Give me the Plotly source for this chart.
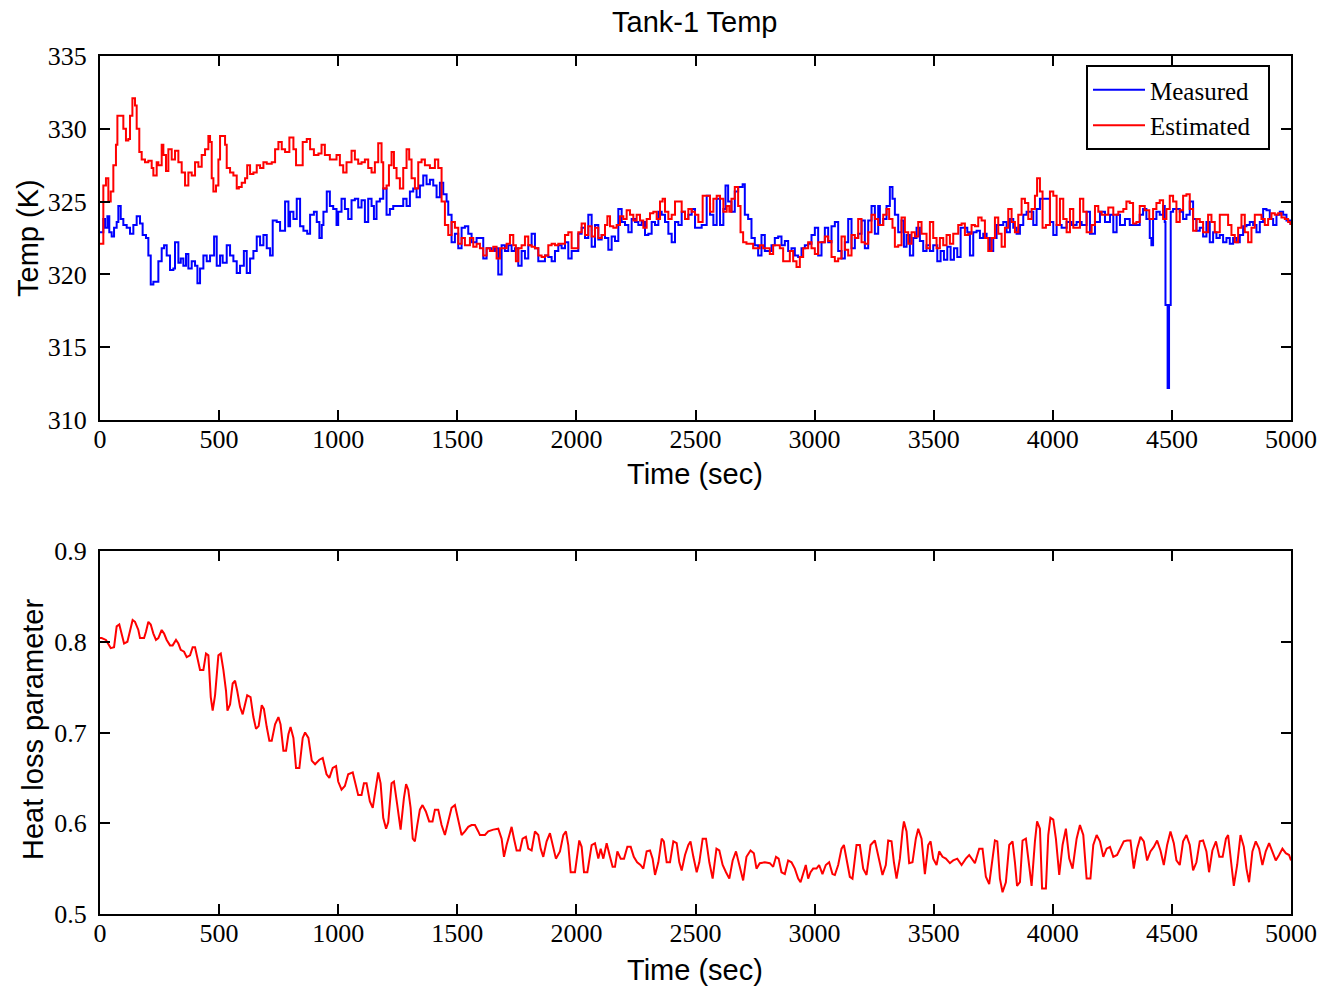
import plotly.graph_objects as go

# ---------------- data (time in sec, value) ----------------
measured = [
    (0, 322.9), (7, 322.9), (14, 323.8), (21, 323.2), (31, 324.0), (39, 322.9), (49, 322.6), (59, 323.2),
    (70, 323.6), (77, 324.7), (87, 323.8), (98, 323.4), (112, 323.2), (126, 322.8), (140, 323.4),
    (154, 324.0), (168, 323.5), (179, 322.7), (193, 322.5), (203, 321.3), (213, 319.3), (224, 319.5),
    (238, 319.5), (245, 320.9), (259, 321.8), (269, 322.0), (280, 321.3), (294, 320.3), (308, 320.4),
    (315, 322.2), (329, 320.8), (339, 321.1), (350, 320.6), (361, 321.4), (371, 320.4), (385, 320.9),
    (399, 320.6), (409, 319.4), (420, 320.4), (434, 321.3), (448, 320.9), (462, 321.3), (479, 322.6),
    (490, 320.6), (504, 321.3), (515, 320.8), (532, 322.0), (546, 321.3), (560, 320.9), (574, 320.1),
    (588, 320.6), (604, 321.6), (616, 320.1), (630, 321.1), (644, 321.6), (658, 322.6), (672, 322.0),
    (686, 322.7), (700, 321.8), (714, 321.3), (725, 323.7), (742, 323.6), (756, 323.0), (777, 325.0),
    (791, 323.3), (798, 324.3), (812, 323.8), (826, 325.2), (840, 323.3), (854, 323.0), (870, 322.8),
    (882, 324.1), (898, 324.3), (910, 323.6), (921, 322.5), (931, 323.4), (938, 324.3), (952, 325.7),
    (965, 324.7), (979, 324.5), (993, 323.4), (1000, 324.3), (1014, 325.2), (1028, 324.5), (1042, 323.8),
    (1056, 325.1), (1070, 325.2), (1084, 324.6), (1098, 325.1), (1112, 323.6), (1126, 325.2),
    (1140, 324.7), (1150, 323.8), (1161, 325.0), (1175, 325.2), (1189, 325.9), (1203, 324.1),
    (1217, 324.5), (1231, 324.7), (1252, 324.7), (1273, 325.2), (1287, 324.7), (1301, 325.7),
    (1315, 325.9), (1329, 325.3), (1343, 326.1), (1357, 326.8), (1371, 326.2), (1385, 326.5),
    (1399, 326.1), (1413, 325.3), (1427, 326.3), (1441, 325.5), (1455, 325.0), (1462, 324.1),
    (1476, 322.2), (1490, 322.8), (1504, 321.8), (1518, 323.2), (1532, 323.3), (1546, 322.8),
    (1560, 322.2), (1581, 322.5),
    (1595, 322.5), (1609, 321.1), (1623, 321.8), (1644, 321.6), (1658, 321.8), (1672, 320.0),
    (1686, 322.0), (1700, 321.6), (1714, 322.0), (1728, 321.6), (1742, 321.8), (1756, 320.6),
    (1770, 321.6), (1784, 321.1), (1798, 322.0), (1812, 322.8), (1826, 321.8), (1840, 320.9),
    (1854, 320.9), (1868, 321.3), (1882, 321.2), (1896, 320.9), (1910, 321.6), (1924, 322.0),
    (1938, 321.8), (1952, 322.2), (1966, 321.1), (1980, 321.6), (1994, 321.6), (2008, 322.8),
    (2022, 323.2), (2036, 322.5), (2050, 324.1), (2064, 321.9), (2078, 323.4), (2092, 322.4),
    (2106, 322.7), (2120, 322.5), (2134, 321.7), (2148, 322.6), (2162, 322.3), (2176, 324.5),
    (2190, 323.6), (2204, 323.4), (2218, 322.9), (2232, 323.8), (2246, 323.6), (2260, 323.4),
    (2274, 323.6), (2288, 322.7), (2302, 322.8), (2316, 323.6), (2330, 323.4), (2344, 324.3),
    (2358, 324.1), (2372, 323.6), (2386, 322.8), (2400, 322.2), (2414, 323.6), (2428, 323.4),
    (2442, 324.3), (2456, 323.8), (2470, 324.1), (2484, 324.5), (2498, 323.2), (2512, 323.2),
    (2526, 323.4), (2547, 325.4), (2561, 324.1), (2575, 323.4), (2589, 325.2), (2603, 323.4),
    (2617, 324.5), (2626, 326.1), (2637, 325.0), (2651, 324.3), (2665, 325.7), (2679, 326.0),
    (2698, 326.2), (2707, 324.1), (2721, 323.8), (2735, 322.5), (2749, 322.0), (2763, 321.3),
    (2777, 322.7), (2791, 321.6), (2805, 321.6), (2819, 322.0), (2833, 322.5), (2847, 322.6),
    (2861, 322.0), (2875, 322.3), (2889, 321.6), (2903, 321.8), (2917, 321.3), (2931, 321.2),
    (2945, 321.8), (2959, 322.0), (2973, 322.1), (2987, 322.7), (3001, 323.2), (3015, 321.3),
    (3029, 322.2), (3043, 323.2), (3057, 322.2), (3071, 323.3), (3085, 323.6), (3099, 321.6),
    (3113, 321.1), (3127, 322.2), (3141, 323.8), (3155, 321.8), (3169, 322.5), (3183, 322.8),
    (3197, 323.7), (3211, 321.8), (3225, 323.7), (3239, 324.7), (3253, 322.8), (3267, 324.7),
    (3274, 323.4), (3288, 323.8), (3302, 324.7), (3316, 326.0), (3327, 325.2), (3337, 324.1),
    (3351, 322.9), (3365, 323.7), (3375, 321.9), (3386, 322.7), (3400, 321.3), (3414, 322.5),
    (3428, 323.2), (3442, 322.3), (3456, 321.6), (3470, 322.0), (3484, 321.6), (3498, 322.0),
    (3515, 320.9), (3529, 321.6), (3543, 321.0), (3557, 321.9), (3571, 321.0), (3585, 321.8),
    (3599, 321.2), (3613, 323.2), (3627, 323.2), (3641, 322.9), (3652, 321.3), (3666, 322.9),
    (3680, 323.0), (3694, 322.5), (3708, 322.8), (3722, 322.5), (3736, 321.6), (3750, 322.5),
    (3764, 323.4), (3778, 323.4), (3792, 323.6), (3806, 322.9), (3820, 323.8), (3834, 323.2),
    (3848, 322.8), (3862, 323.4), (3876, 324.1), (3890, 324.3), (3904, 324.3), (3918, 323.4),
    (3932, 324.5), (3946, 325.2), (3960, 325.2), (3974, 325.2), (3988, 323.6), (4002, 322.7),
    (4016, 323.4), (4037, 323.2), (4058, 323.6), (4079, 323.4), (4100, 323.6), (4121, 323.4),
    (4142, 324.3), (4156, 322.8), (4177, 323.6), (4198, 324.3), (4219, 323.6), (4240, 324.1),
    (4254, 322.9), (4268, 324.1), (4282, 323.4), (4303, 323.8), (4323, 323.4), (4344, 323.4),
    (4365, 324.1), (4379, 324.5), (4393, 323.8), (4407, 322.5), (4414, 322.0), (4421, 323.8),
    (4435, 324.3), (4449, 324.1), (4463, 324.7), (4470, 323.6), (4473, 317.9), (4480, 317.9),
    (4482, 312.2), (4486, 312.2), (4488, 317.9), (4492, 317.9), (4495, 324.3), (4505, 324.5),
    (4519, 324.5), (4533, 324.3), (4547, 323.8), (4561, 324.1), (4575, 325.0), (4589, 323.8),
    (4603, 323.0), (4617, 323.2), (4631, 322.6), (4645, 323.6), (4659, 322.2), (4673, 322.9),
    (4687, 322.5), (4701, 322.7), (4715, 322.2), (4729, 322.5), (4743, 322.1), (4757, 322.5),
    (4771, 322.2), (4785, 322.7), (4799, 323.3), (4813, 323.4), (4827, 323.6), (4841, 323.4),
    (4855, 322.9), (4869, 323.6), (4883, 324.5), (4897, 324.4), (4911, 323.8), (4925, 323.4),
    (4939, 324.1), (4953, 324.3), (4967, 324.1), (4981, 323.7), (4998, 323.4),
]

estimated = [
    (0, 322.1), (7, 322.1), (14, 326.1), (25, 326.6), (35, 325.0), (45, 325.7), (56, 327.5), (67, 328.9),
    (73, 330.9), (91, 330.9), (98, 330.0), (109, 329.2), (119, 329.3), (126, 330.9), (136, 332.1),
    (147, 331.6), (154, 330.0), (165, 328.4), (175, 327.9), (189, 327.7), (203, 327.8), (217, 327.3),
    (224, 326.8), (238, 327.7), (245, 327.5), (259, 328.9), (266, 328.2), (277, 327.1), (287, 328.6),
    (301, 327.9), (315, 328.5), (329, 327.7), (343, 327.0), (357, 326.1), (371, 327.0), (385, 326.8),
    (399, 327.7), (413, 327.4), (427, 328.2), (441, 328.6), (455, 329.5), (462, 329.1), (469, 326.6),
    (476, 325.7), (487, 326.1), (497, 327.9), (504, 329.5), (518, 329.5), (525, 328.9), (532, 327.3),
    (546, 327.0), (560, 326.8), (574, 325.9), (583, 326.0), (595, 326.3), (609, 326.6), (618, 327.5),
    (630, 326.9), (644, 327.0), (658, 327.5), (672, 327.3), (686, 327.7), (700, 327.6), (721, 327.7),
    (735, 328.6), (749, 329.1), (763, 328.6), (777, 328.4), (795, 329.4), (812, 328.6), (823, 327.5),
    (837, 327.5), (851, 329.1), (868, 329.3), (882, 328.6), (898, 328.2), (917, 328.3), (930, 328.9),
    (944, 328.2), (965, 327.9), (993, 328.2), (1007, 327.5), (1021, 327.0), (1035, 327.7),
    (1056, 328.5), (1070, 327.9), (1084, 327.6), (1098, 327.7), (1112, 327.9), (1126, 327.3),
    (1140, 327.0), (1154, 327.7), (1168, 329.0), (1182, 327.7), (1189, 325.9), (1203, 326.1),
    (1213, 327.5), (1224, 328.4), (1234, 327.3), (1245, 326.6), (1259, 325.9), (1273, 327.3),
    (1287, 328.6), (1298, 327.9), (1308, 326.6), (1322, 325.9), (1336, 327.7), (1350, 327.9),
    (1364, 327.5), (1385, 327.3), (1406, 327.9), (1420, 327.3), (1434, 325.0), (1448, 323.4),
    (1462, 322.7), (1476, 323.6), (1490, 323.2), (1504, 322.1), (1518, 322.5), (1532, 322.0),
    (1553, 322.5), (1567, 321.9), (1581, 322.1),
    (1595, 321.8), (1609, 321.3), (1623, 321.8), (1637, 321.6), (1651, 321.9), (1665, 321.1),
    (1679, 321.8), (1693, 321.8), (1707, 322.1), (1721, 322.7), (1735, 322.0), (1746, 320.9),
    (1756, 321.8), (1770, 322.0), (1784, 322.6), (1798, 322.0), (1812, 321.9), (1826, 321.8),
    (1840, 321.3), (1854, 321.2), (1868, 321.3), (1882, 322.0), (1896, 322.1), (1910, 322.0),
    (1924, 322.1), (1938, 322.1), (1952, 322.7), (1966, 322.9), (1980, 321.8), (1994, 321.8),
    (2008, 322.9), (2022, 323.5), (2036, 322.7), (2050, 323.3), (2064, 322.6), (2078, 323.2),
    (2092, 322.5), (2106, 322.7), (2120, 323.4), (2130, 324.0), (2141, 323.3), (2155, 323.2),
    (2169, 323.4), (2183, 324.0), (2197, 323.8), (2211, 324.4), (2225, 324.1), (2239, 323.7),
    (2253, 324.1), (2267, 323.7), (2281, 323.2), (2295, 323.8), (2309, 324.2), (2323, 324.3),
    (2337, 323.8), (2351, 325.0), (2362, 325.2), (2372, 324.3), (2386, 323.8), (2400, 324.1),
    (2414, 325.0), (2428, 325.0), (2442, 324.3), (2456, 323.8), (2470, 324.5), (2484, 324.3),
    (2498, 324.1), (2512, 323.6), (2530, 325.4), (2544, 325.4), (2561, 324.3), (2575, 325.2),
    (2589, 325.4), (2603, 325.2), (2617, 324.3), (2631, 324.7), (2642, 324.3), (2651, 325.2),
    (2665, 326.0), (2679, 324.7), (2689, 322.9), (2700, 322.2), (2714, 322.1), (2728, 322.1),
    (2742, 321.8), (2756, 321.8), (2770, 322.0), (2784, 321.8), (2798, 321.8), (2812, 321.4),
    (2826, 322.0), (2840, 322.0), (2854, 321.8), (2868, 320.9), (2882, 320.9), (2896, 321.6),
    (2910, 320.9), (2924, 320.5), (2938, 321.2), (2952, 321.8), (2973, 322.2), (2987, 321.8),
    (3001, 321.4), (3015, 322.2), (3029, 322.2), (3043, 322.6), (3057, 322.3), (3071, 321.2),
    (3085, 320.9), (3099, 321.1), (3113, 322.6), (3127, 321.7), (3141, 321.3), (3155, 322.7),
    (3169, 322.5), (3183, 323.8), (3197, 322.2), (3211, 322.1), (3225, 322.9), (3239, 324.1),
    (3253, 323.8), (3267, 323.4),
    (3274, 323.4), (3288, 324.1), (3302, 324.5), (3313, 323.8), (3327, 323.2), (3337, 321.9),
    (3351, 322.0), (3365, 323.9), (3379, 322.9), (3393, 322.1), (3407, 322.9), (3421, 322.6),
    (3435, 323.6), (3449, 322.8), (3470, 321.8), (3484, 323.6), (3498, 322.5), (3512, 321.8),
    (3526, 322.5), (3540, 322.0), (3554, 322.7), (3568, 322.1), (3582, 322.8), (3603, 323.4),
    (3617, 323.5), (3631, 322.7), (3645, 322.8), (3659, 323.4), (3673, 323.3), (3687, 323.9),
    (3701, 323.7), (3715, 322.5), (3729, 321.6), (3743, 322.5), (3757, 323.9), (3771, 322.8),
    (3785, 321.9), (3799, 323.2), (3813, 324.5), (3827, 323.6), (3841, 322.9), (3855, 324.1),
    (3869, 325.2), (3883, 324.9), (3897, 323.8), (3911, 324.5), (3925, 325.4), (3934, 326.6),
    (3946, 325.7), (3957, 323.2), (3971, 323.4), (3988, 325.7), (4002, 325.4), (4016, 323.4),
    (4030, 325.2), (4044, 323.8), (4058, 322.9), (4072, 324.5), (4086, 323.2), (4100, 323.2),
    (4114, 325.2), (4128, 324.3), (4142, 322.9), (4163, 323.4), (4177, 324.7), (4191, 324.3),
    (4205, 324.1), (4219, 324.1), (4233, 324.6), (4254, 324.1), (4275, 324.3), (4296, 324.5),
    (4309, 325.0), (4323, 324.9), (4337, 323.5), (4351, 323.6), (4365, 324.7), (4386, 324.4),
    (4405, 323.8), (4421, 324.5), (4435, 324.9), (4449, 325.1), (4463, 323.8), (4477, 324.5),
    (4491, 325.4), (4505, 325.0), (4519, 323.6), (4533, 324.4), (4547, 325.4), (4561, 325.5),
    (4575, 324.5), (4589, 323.0), (4603, 323.8), (4617, 323.6), (4631, 322.9), (4652, 324.1),
    (4666, 323.6), (4680, 322.9), (4701, 324.1), (4722, 324.1), (4736, 323.4), (4750, 322.7),
    (4764, 322.2), (4778, 323.2), (4792, 324.1), (4806, 322.9), (4820, 322.2), (4834, 323.2),
    (4848, 324.1), (4862, 324.1), (4876, 323.8), (4890, 323.4), (4904, 323.8), (4918, 324.2),
    (4932, 324.1), (4946, 324.2), (4960, 323.9), (4974, 323.8), (4988, 323.6), (4998, 323.4),
]

heat_loss = [
    (0, 0.804), (7, 0.804), (25, 0.802), (35, 0.798), (45, 0.793), (59, 0.794), (70, 0.817), (81, 0.819),
    (91, 0.809), (101, 0.798), (115, 0.800), (126, 0.811), (137, 0.824), (147, 0.822), (161, 0.813),
    (168, 0.804), (185, 0.804), (193, 0.811), (203, 0.822), (213, 0.819), (224, 0.809), (235, 0.802),
    (245, 0.804), (259, 0.813), (269, 0.809), (280, 0.802), (294, 0.796), (305, 0.796), (319, 0.802),
    (329, 0.798), (339, 0.791), (353, 0.789), (364, 0.783), (378, 0.785), (389, 0.794), (399, 0.794),
    (409, 0.783), (420, 0.769), (434, 0.769), (445, 0.787), (455, 0.785), (465, 0.739), (473, 0.724),
    (483, 0.741), (497, 0.785), (507, 0.787), (518, 0.769), (529, 0.746), (535, 0.724), (546, 0.731),
    (557, 0.754), (567, 0.757), (576, 0.746), (588, 0.728), (599, 0.720), (609, 0.731), (618, 0.741),
    (632, 0.739), (644, 0.717), (655, 0.704), (666, 0.707), (679, 0.730), (688, 0.726), (700, 0.706),
    (711, 0.691), (721, 0.691), (735, 0.709), (749, 0.717), (758, 0.709), (770, 0.680), (781, 0.680),
    (791, 0.698), (800, 0.706), (812, 0.694), (823, 0.661), (837, 0.661), (851, 0.694), (861, 0.700),
    (875, 0.694), (889, 0.669), (903, 0.665), (921, 0.670), (935, 0.672), (951, 0.654), (963, 0.650),
    (977, 0.661), (991, 0.663), (1000, 0.646), (1014, 0.637), (1028, 0.641), (1042, 0.654),
    (1061, 0.656), (1070, 0.646), (1084, 0.631), (1098, 0.631), (1108, 0.644), (1119, 0.644),
    (1133, 0.624), (1145, 0.617), (1159, 0.641), (1168, 0.656), (1178, 0.644), (1189, 0.606),
    (1201, 0.594), (1210, 0.601), (1224, 0.644), (1234, 0.646), (1248, 0.620), (1262, 0.593),
    (1276, 0.628), (1285, 0.643), (1294, 0.637), (1304, 0.617), (1313, 0.583), (1322, 0.580),
    (1332, 0.598), (1343, 0.615), (1354, 0.620), (1368, 0.613), (1382, 0.602), (1396, 0.602),
    (1406, 0.615), (1420, 0.615), (1434, 0.598), (1448, 0.587), (1462, 0.602), (1476, 0.617),
    (1490, 0.620), (1504, 0.602), (1518, 0.587), (1532, 0.591), (1546, 0.596), (1560, 0.598),
    (1574, 0.598), (1588, 0.591),
    (1595, 0.587), (1616, 0.587), (1630, 0.591), (1651, 0.593), (1672, 0.594), (1686, 0.583),
    (1696, 0.563), (1707, 0.576), (1718, 0.587), (1728, 0.596), (1738, 0.583), (1749, 0.570),
    (1763, 0.570), (1774, 0.583), (1788, 0.585), (1798, 0.572), (1812, 0.570), (1826, 0.591),
    (1840, 0.587), (1850, 0.572), (1861, 0.563), (1875, 0.580), (1889, 0.589), (1900, 0.576),
    (1914, 0.561), (1931, 0.569), (1945, 0.587), (1956, 0.591), (1966, 0.576), (1976, 0.546),
    (1994, 0.546), (2012, 0.581), (2022, 0.574), (2032, 0.546), (2046, 0.546), (2064, 0.576),
    (2078, 0.578), (2092, 0.561), (2102, 0.572), (2113, 0.561), (2127, 0.578), (2141, 0.563),
    (2152, 0.552), (2162, 0.552), (2172, 0.569), (2186, 0.561), (2200, 0.561), (2214, 0.574),
    (2228, 0.574), (2241, 0.563), (2255, 0.557), (2269, 0.554), (2281, 0.550), (2295, 0.569),
    (2309, 0.570), (2320, 0.561), (2330, 0.543), (2344, 0.557), (2358, 0.583), (2367, 0.580),
    (2379, 0.557), (2393, 0.557), (2407, 0.580), (2421, 0.578), (2432, 0.557), (2442, 0.548),
    (2456, 0.565), (2470, 0.576), (2479, 0.580), (2491, 0.563), (2505, 0.546), (2516, 0.557),
    (2530, 0.583), (2544, 0.583), (2558, 0.557), (2572, 0.539), (2588, 0.572), (2600, 0.570),
    (2614, 0.554), (2628, 0.546), (2642, 0.539), (2656, 0.559), (2670, 0.569), (2684, 0.554),
    (2700, 0.537), (2714, 0.563), (2731, 0.570), (2745, 0.567), (2756, 0.550), (2770, 0.556),
    (2791, 0.557), (2812, 0.556), (2826, 0.552), (2838, 0.563), (2849, 0.561), (2861, 0.546),
    (2875, 0.544), (2889, 0.559), (2903, 0.557), (2917, 0.550), (2931, 0.539), (2941, 0.535),
    (2952, 0.544), (2963, 0.554), (2973, 0.539), (2983, 0.546), (2994, 0.550), (3008, 0.550),
    (3019, 0.554), (3033, 0.544), (3047, 0.554), (3061, 0.557), (3075, 0.544), (3085, 0.543),
    (3099, 0.554), (3113, 0.572), (3123, 0.576), (3134, 0.561), (3148, 0.541), (3159, 0.539),
    (3176, 0.576), (3190, 0.576), (3204, 0.550), (3218, 0.543), (3235, 0.576), (3253, 0.581),
    (3267, 0.565),
    (3274, 0.559), (3285, 0.543), (3299, 0.554), (3309, 0.581), (3323, 0.580), (3333, 0.557),
    (3344, 0.539), (3358, 0.561), (3369, 0.591), (3375, 0.602), (3386, 0.591), (3397, 0.556),
    (3411, 0.557), (3425, 0.583), (3435, 0.594), (3449, 0.583), (3463, 0.544), (3477, 0.576),
    (3487, 0.580), (3498, 0.561), (3512, 0.554), (3523, 0.569), (3537, 0.563), (3551, 0.561),
    (3568, 0.556), (3582, 0.559), (3599, 0.561), (3617, 0.554), (3635, 0.561), (3649, 0.565),
    (3673, 0.556), (3691, 0.572), (3705, 0.572), (3719, 0.541), (3733, 0.533), (3747, 0.561),
    (3757, 0.581), (3767, 0.580), (3778, 0.539), (3789, 0.524), (3803, 0.535), (3817, 0.576),
    (3831, 0.580), (3841, 0.557), (3850, 0.531), (3862, 0.535), (3873, 0.581), (3887, 0.583),
    (3901, 0.554), (3911, 0.531), (3925, 0.580), (3934, 0.602), (3946, 0.594), (3955, 0.528),
    (3971, 0.528), (3981, 0.587), (3990, 0.606), (4002, 0.604), (4013, 0.583), (4027, 0.543),
    (4041, 0.576), (4055, 0.594), (4069, 0.561), (4083, 0.550), (4100, 0.583), (4114, 0.598),
    (4128, 0.587), (4142, 0.539), (4158, 0.539), (4170, 0.576), (4184, 0.587), (4198, 0.580),
    (4212, 0.563), (4226, 0.572), (4240, 0.574), (4254, 0.563), (4270, 0.565), (4284, 0.572),
    (4298, 0.580), (4312, 0.581), (4326, 0.581), (4340, 0.550), (4354, 0.572), (4368, 0.585),
    (4382, 0.580), (4396, 0.559), (4410, 0.569), (4424, 0.574), (4438, 0.581), (4452, 0.570),
    (4466, 0.554), (4480, 0.576), (4494, 0.591), (4508, 0.578), (4519, 0.559), (4533, 0.554),
    (4547, 0.580), (4561, 0.587), (4575, 0.576), (4589, 0.548), (4603, 0.557), (4617, 0.580),
    (4631, 0.581), (4645, 0.569), (4656, 0.546), (4670, 0.570), (4685, 0.580), (4699, 0.563),
    (4713, 0.563), (4727, 0.583), (4736, 0.587), (4750, 0.554), (4760, 0.531), (4774, 0.554),
    (4788, 0.587), (4802, 0.574), (4813, 0.550), (4824, 0.535), (4838, 0.569), (4852, 0.580),
    (4866, 0.572), (4880, 0.554), (4894, 0.569), (4908, 0.578), (4922, 0.569), (4936, 0.559),
    (4950, 0.565), (4964, 0.572), (4978, 0.567), (4992, 0.565), (5000, 0.559),
]

x_ticks = [0, 500, 1000, 1500, 2000, 2500, 3000, 3500, 4000, 4500, 5000]
temp_ticks = [310, 315, 320, 325, 330, 335]
hl_ticks = [0.5, 0.6, 0.7, 0.8, 0.9]

title_text = "Tank-1 Temp"
x_title = "Time (sec)"
y1_title = "Temp (K)"
y2_title = "Heat loss parameter"
series_names = ["Measured", "Estimated"]

# ---------------- figure ----------------
W, H = 1324, 987
mt, mT = zip(*measured)
et, eT = zip(*estimated)
ht, hP = zip(*heat_loss)

fig = go.Figure()
fig.add_trace(go.Scatter(x=mt, y=mT, mode="lines", name=series_names[0] + "\u00a0\u00a0",
                         line=dict(color="#0000FF", width=2, shape="hv"),
                         xaxis="x", yaxis="y"))
fig.add_trace(go.Scatter(x=et, y=eT, mode="lines", name=series_names[1] + "\u00a0\u00a0",
                         line=dict(color="#FF0000", width=2, shape="hv"),
                         xaxis="x", yaxis="y"))
fig.add_trace(go.Scatter(x=ht, y=hP, mode="lines", name="Heat loss", showlegend=False,
                         line=dict(color="#FF0000", width=2, shape="linear"),
                         xaxis="x2", yaxis="y2"))

tick_font = dict(family="Liberation Serif, Times New Roman, serif", size=26, color="black")
lab_font = dict(family="Liberation Sans, Arial, sans-serif", size=29, color="black")

x_dom = [100 / W, 1291 / W]
common_x = dict(range=[0, 5000], tickvals=x_ticks, ticks="inside", ticklen=10, tickwidth=2,
                showline=True, linewidth=2, linecolor="black", mirror="ticks", showgrid=False,
                zeroline=False, tickfont=tick_font, tickcolor="black", ticklabelstandoff=-5,
                domain=x_dom, automargin=False)
common_y = dict(ticks="inside", ticklen=10, tickwidth=2, showline=True, linewidth=2,
                linecolor="black", mirror="ticks", showgrid=False, zeroline=False,
                tickfont=tick_font, tickcolor="black", ticklabelstandoff=6, automargin=False)

fig.update_layout(
    width=W, height=H,
    margin=dict(l=0, r=0, t=0, b=0, pad=0, autoexpand=False),
    paper_bgcolor="white", plot_bgcolor="white",
    xaxis=dict(**common_x, anchor="y"),
    yaxis=dict(**common_y, range=[310, 335], tickvals=temp_ticks,
               domain=[1 - 420 / H, 1 - 56 / H], anchor="x"),
    xaxis2=dict(**common_x, anchor="y2"),
    yaxis2=dict(**common_y, range=[0.5, 0.9], tickvals=hl_ticks, tickformat=".1f",
                domain=[1 - 914 / H, 1 - 551 / H], anchor="x2"),
    legend=dict(x=1086 / W, y=1 - 65 / H, xanchor="left", yanchor="top",
                bgcolor="white", bordercolor="black", borderwidth=2,
                font=dict(family="Liberation Serif, Times New Roman, serif", size=25, color="black"),
                tracegroupgap=0, itemwidth=52),
    showlegend=True,
    annotations=[
        dict(text=title_text, x=0.5 * (x_dom[0] + x_dom[1]), y=1 - 22 / H, xref="paper", yref="paper",
             showarrow=False, font=lab_font, xanchor="center", yanchor="middle"),
        dict(text=x_title, x=0.5 * (x_dom[0] + x_dom[1]), y=1 - 474 / H, xref="paper", yref="paper",
             showarrow=False, font=lab_font, xanchor="center", yanchor="middle"),
        dict(text=x_title, x=0.5 * (x_dom[0] + x_dom[1]), y=1 - 970 / H, xref="paper", yref="paper",
             showarrow=False, font=lab_font, xanchor="center", yanchor="middle"),
        dict(text=y1_title, x=28 / W, y=1 - 238 / H, xref="paper", yref="paper", textangle=-90,
             showarrow=False, font=lab_font, xanchor="center", yanchor="middle"),
        dict(text=y2_title, x=33 / W, y=1 - 730 / H, xref="paper", yref="paper", textangle=-90,
             showarrow=False, font=lab_font, xanchor="center", yanchor="middle"),
    ],
)

fig.write_html("out.html")
